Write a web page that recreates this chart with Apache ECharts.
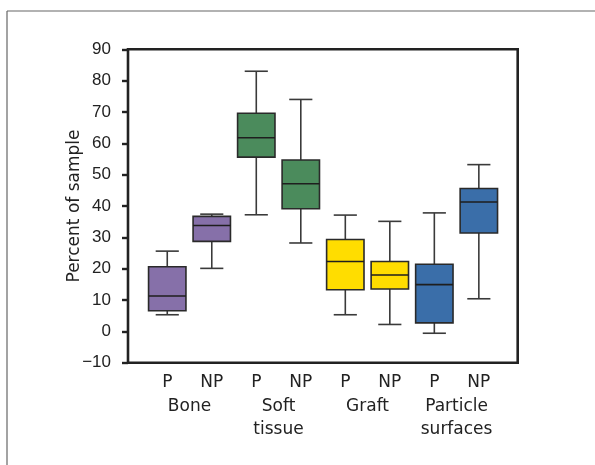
<!DOCTYPE html>
<html>
<head>
<meta charset="utf-8">
<script src="https://cdn.jsdelivr.net/npm/echarts@6/dist/echarts.min.js"></script>
<style>html,body{margin:0;padding:0;background:#fff;}#c{width:595px;height:465px;}</style>
</head>
<body>
<div id="c"></div>
<script>
var categories = ['P', 'NP', 'P', 'NP', 'P', 'NP', 'P', 'NP'];
var groups = ['Bone', 'Soft\ntissue', 'Graft', 'Particle\nsurfaces'];
var yTicks = [-10, 0, 10, 20, 30, 40, 50, 60, 70, 80, 90];
var whiskerLow  = [5.3, 20.1, 37.2, 28.2, 5.3, 2.2, -0.6, 10.4];
var quartile1   = [6.6, 28.7, 55.6, 39.1, 13.3, 13.5, 2.7, 31.4];
var medians     = [11.3, 33.8, 61.8, 47.1, 22.3, 18.0, 14.9, 41.3];
var quartile3   = [20.6, 36.7, 69.6, 54.7, 29.3, 22.3, 21.4, 45.6];
var whiskerHigh = [25.6, 37.4, 83.0, 74.0, 37.1, 35.1, 37.8, 53.2];
var boxColors = ['#8670a9', '#8670a9', '#4b8b5c', '#4b8b5c', '#ffdd00', '#ffdd00', '#3a6ea9', '#3a6ea9'];

var data = categories.map(function (c, i) {
  return [i, whiskerLow[i], quartile1[i], medians[i], quartile3[i], whiskerHigh[i]];
});

function renderItem(params, api) {
  var i = api.value(0);
  var band = api.size([1, 0])[0];
  var pLow = api.coord([i, api.value(1)]);
  var pQ1 = api.coord([i, api.value(2)]);
  var pMed = api.coord([i, api.value(3)]);
  var pQ3 = api.coord([i, api.value(4)]);
  var pHigh = api.coord([i, api.value(5)]);
  var cx = pMed[0];
  var bw = band * 0.84;
  var cw = band * 0.52;
  var wStyle = { stroke: '#3a3a3a', lineWidth: 1.6 };
  return {
    type: 'group',
    children: [
      { type: 'line', shape: { x1: cx, y1: pLow[1], x2: cx, y2: pQ1[1] }, style: wStyle },
      { type: 'line', shape: { x1: cx, y1: pQ3[1], x2: cx, y2: pHigh[1] }, style: wStyle },
      { type: 'line', shape: { x1: cx - cw / 2, y1: pLow[1], x2: cx + cw / 2, y2: pLow[1] }, style: wStyle },
      { type: 'line', shape: { x1: cx - cw / 2, y1: pHigh[1], x2: cx + cw / 2, y2: pHigh[1] }, style: wStyle },
      { type: 'rect', shape: { x: cx - bw / 2, y: pQ3[1], width: bw, height: pQ1[1] - pQ3[1] },
        style: { fill: boxColors[i], stroke: '#2a2a2a', lineWidth: 1.6 } },
      { type: 'line', shape: { x1: cx - bw / 2, y1: pMed[1], x2: cx + bw / 2, y2: pMed[1] },
        style: { stroke: '#1e1e1e', lineWidth: 1.6 } }
    ]
  };
}

var chart = echarts.init(document.getElementById('c'), null, { renderer: 'canvas' });
chart.setOption({
  animation: false,
  backgroundColor: '#ffffff',
  graphic: [
    { type: 'line', shape: { x1: 7, y1: 11, x2: 595, y2: 11 }, style: { stroke: '#666', lineWidth: 1.2 } },
    { type: 'line', shape: { x1: 7, y1: 11, x2: 7, y2: 465 }, style: { stroke: '#666', lineWidth: 1.2 } }
  ],
  grid: [
    { left: 128, right: 77.3, top: 49.3, bottom: 102.3, show: true, borderColor: '#222', borderWidth: 2.6, backgroundColor: 'transparent' },
    { left: 145, right: 93.9, top: 49.3, bottom: 102.3 }
  ],
  xAxis: [
    { gridIndex: 0, type: 'value', show: false },
    { gridIndex: 1, type: 'category', data: categories, boundaryGap: true,
      axisLine: { show: false }, axisTick: { show: false }, splitLine: { show: false },
      axisLabel: { interval: 0, margin: 11, color: '#222', fontFamily: 'DejaVu Sans', fontSize: 17 } },
    { gridIndex: 1, type: 'category', data: groups, boundaryGap: true, position: 'bottom',
      axisLine: { show: false }, axisTick: { show: false }, splitLine: { show: false },
      axisLabel: { interval: 0, margin: 32, color: '#222', fontFamily: 'DejaVu Sans', fontSize: 17, lineHeight: 23.5 } }
  ],
  yAxis: [
    { gridIndex: 0, type: 'value', min: yTicks[0], max: yTicks[yTicks.length - 1], interval: 10,
      axisLine: { show: false },
      axisTick: { show: true, inside: false, length: 6, lineStyle: { color: '#222', width: 2.4 } },
      splitLine: { show: false },
      axisLabel: { margin: 17, color: '#222', fontFamily: 'Liberation Sans', fontSize: 17,
        formatter: function (v) { return v < 0 ? '\u2212' + Math.abs(v) : String(v); } },
      name: 'Percent of sample', nameLocation: 'middle', nameGap: 45, nameMoveOverlap: false,
      nameTextStyle: { color: '#222', fontFamily: 'DejaVu Sans', fontSize: 17 } },
    { gridIndex: 1, type: 'value', min: yTicks[0], max: yTicks[yTicks.length - 1], show: false }
  ],
  series: [
    { type: 'custom', xAxisIndex: 1, yAxisIndex: 1, renderItem: renderItem, data: data,
      encode: { x: 0, y: [1, 2, 3, 4, 5] }, clip: false }
  ]
});
</script>
</body>
</html>
